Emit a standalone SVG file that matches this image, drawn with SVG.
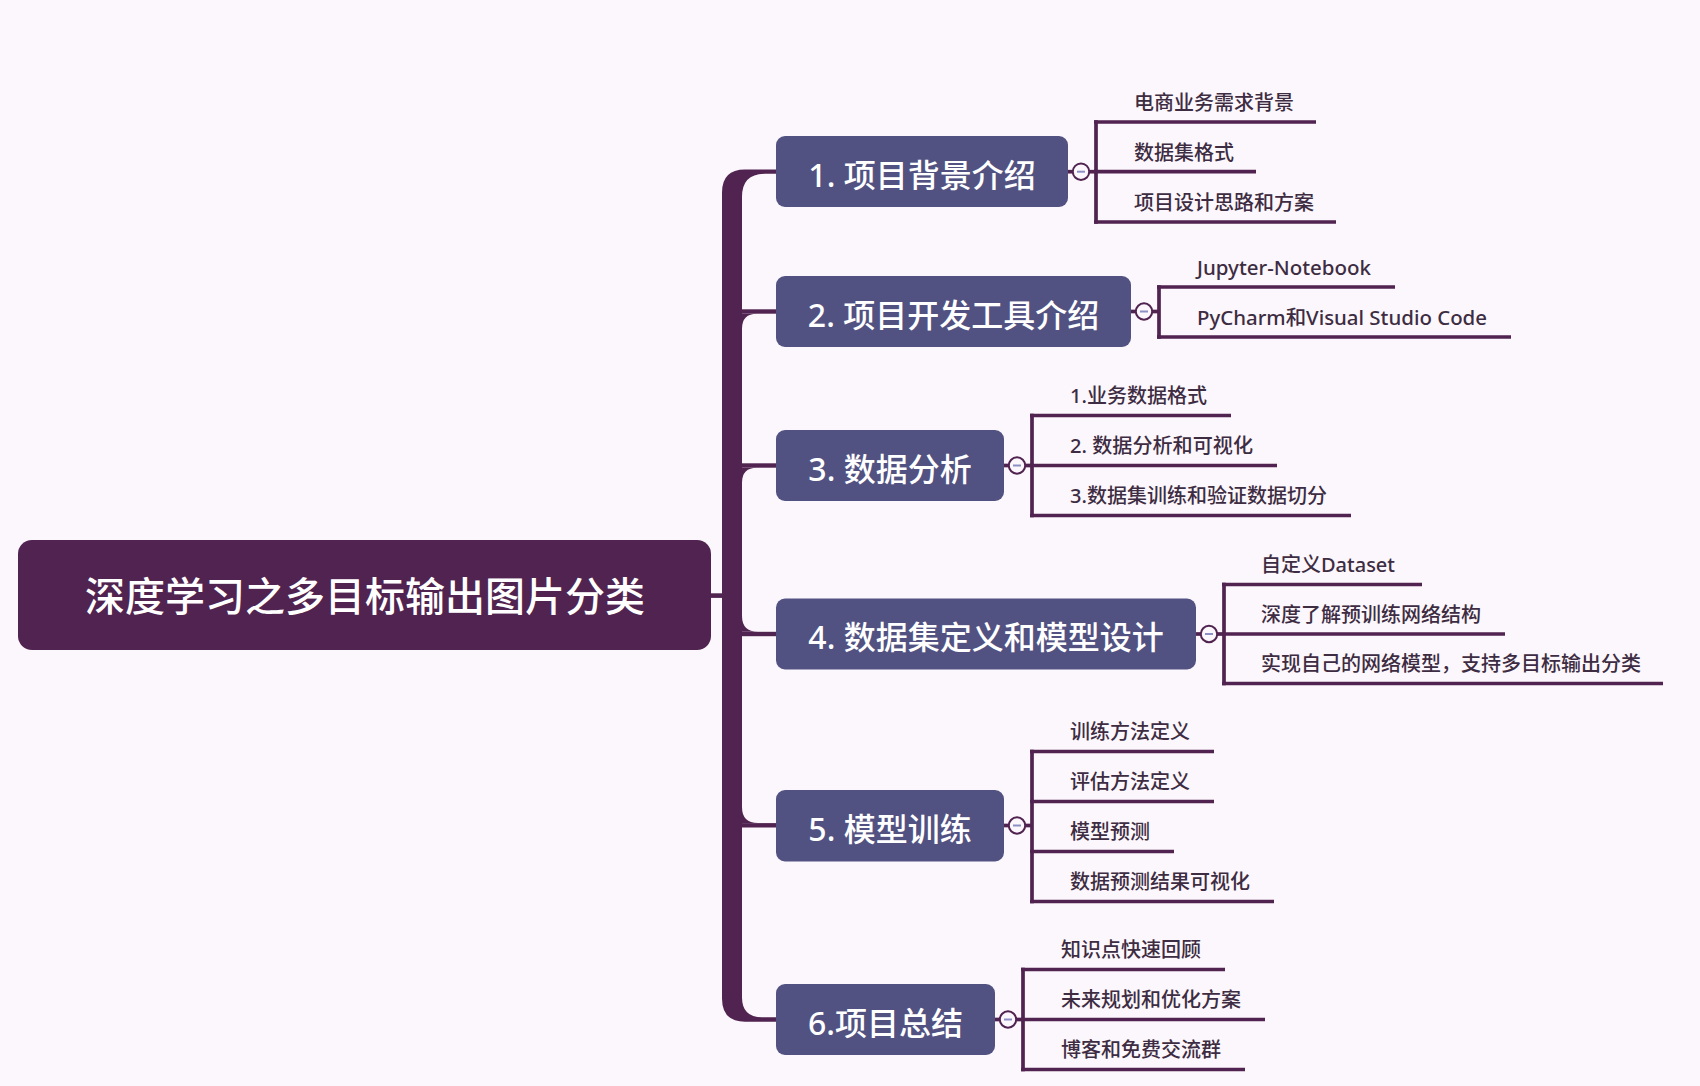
<svg xmlns="http://www.w3.org/2000/svg" width="1700" height="1086" viewBox="0 0 1700 1086">
<style>
.bg{fill:#FCF7FC}
.root rect{fill:#502350}
.root text{font-family:"Noto Sans","Noto Sans CJK SC",sans-serif;font-size:40px;font-weight:500;fill:#ffffff;text-anchor:middle}
.topic rect{fill:#525282}
.topic text{font-family:"Noto Sans","Noto Sans CJK SC",sans-serif;font-size:32px;font-weight:500;fill:#ffffff;text-anchor:middle}
.sub text{font-family:"Noto Sans","Noto Sans CJK SC",sans-serif;font-size:20px;font-weight:500;fill:#3D2C42}
.ln{stroke:#502350;stroke-width:3.7;fill:none}
.trunk{fill:#502350}
.tog circle{fill:#FCF7FC;stroke:#502350;stroke-width:2}
.tog line{stroke:#8C90C4;stroke-width:2}
</style>
<rect class="bg" x="0" y="0" width="1700" height="1086"/>

<g id="connectors">
  <rect class="trunk" x="710" y="593.3" width="13" height="4.6"/>
  <path class="trunk" d="M776,169.6 L745,169.6 Q722,169.6 722,192.6 L722,998.5 Q722,1021.7 745,1021.7 L776,1021.7 L776,1017.3 L762,1017.3 Q742,1017.3 742,997.3 L742,197 Q742,173.8 765,173.8 L776,173.8 Z"/>
  <rect class="trunk" x="740" y="309.3" width="36" height="4.4"/>
  <path class="trunk" d="M742,313.7 L742,328.7 Q742,313.7 757,313.7 Z"/>
  <rect class="trunk" x="740" y="463.3" width="36" height="4.4"/>
  <path class="trunk" d="M742,467.7 L742,482.7 Q742,467.7 757,467.7 Z"/>
  <rect class="trunk" x="740" y="631.8" width="36" height="4.4"/>
  <path class="trunk" d="M742,631.8 L742,615.8 Q742,631.8 758,631.8 Z"/>
  <rect class="trunk" x="740" y="823.1" width="36" height="4.4"/>
  <path class="trunk" d="M742,823.1 L742,807.1 Q742,823.1 758,823.1 Z"/>

  <!-- node 1 -->
  <line class="ln" x1="1068" y1="171.7" x2="1073" y2="171.7"/>
  <line class="ln" x1="1089" y1="171.7" x2="1096" y2="171.7"/>
  <line class="ln" x1="1096" y1="120.2" x2="1096" y2="223.8"/>
  <!-- node 2 -->
  <line class="ln" x1="1131" y1="311.5" x2="1136" y2="311.5"/>
  <line class="ln" x1="1152" y1="311.5" x2="1159" y2="311.5"/>
  <line class="ln" x1="1159" y1="285.2" x2="1159" y2="338.8"/>
  <!-- node 3 -->
  <line class="ln" x1="1004" y1="465.5" x2="1009" y2="465.5"/>
  <line class="ln" x1="1025" y1="465.5" x2="1032" y2="465.5"/>
  <line class="ln" x1="1032" y1="413.7" x2="1032" y2="517.3"/>
  <!-- node 4 -->
  <line class="ln" x1="1196" y1="634" x2="1201" y2="634"/>
  <line class="ln" x1="1217" y1="634" x2="1224" y2="634"/>
  <line class="ln" x1="1224" y1="582.7" x2="1224" y2="685.3"/>
  <!-- node 5 -->
  <line class="ln" x1="1004" y1="825.5" x2="1009" y2="825.5"/>
  <line class="ln" x1="1025" y1="825.5" x2="1032" y2="825.5"/>
  <line class="ln" x1="1032" y1="749.7" x2="1032" y2="903.3"/>
  <!-- node 6 -->
  <line class="ln" x1="995" y1="1019.5" x2="1000" y2="1019.5"/>
  <line class="ln" x1="1016" y1="1019.5" x2="1023" y2="1019.5"/>
  <line class="ln" x1="1023" y1="967.7" x2="1023" y2="1071.3"/>

  <g class="tog">
    <circle cx="1081" cy="171.7" r="8.2"/><line x1="1077" y1="171.7" x2="1085" y2="171.7"/>
    <circle cx="1144" cy="311.5" r="8.2"/><line x1="1140" y1="311.5" x2="1148" y2="311.5"/>
    <circle cx="1017" cy="465.5" r="8.2"/><line x1="1013" y1="465.5" x2="1021" y2="465.5"/>
    <circle cx="1209" cy="634" r="8.2"/><line x1="1205" y1="634" x2="1213" y2="634"/>
    <circle cx="1017" cy="825.5" r="8.2"/><line x1="1013" y1="825.5" x2="1021" y2="825.5"/>
    <circle cx="1008" cy="1019.5" r="8.2"/><line x1="1004" y1="1019.5" x2="1012" y2="1019.5"/>
  </g>
</g>

<g id="root" class="root">
  <rect x="18" y="540" width="693" height="110" rx="14"/>
  <text x="365" y="611">深度学习之多目标输出图片分类</text>
</g>

<g id="t1" class="topic"><rect x="776" y="136" width="292" height="71" rx="9"/><text x="922" y="187">1. 项目背景介绍</text></g>
<g id="t2" class="topic"><rect x="776" y="276" width="355" height="71" rx="9"/><text x="953.5" y="326.5">2. 项目开发工具介绍</text></g>
<g id="t3" class="topic"><rect x="776" y="430" width="228" height="71" rx="9"/><text x="890" y="480.5">3. 数据分析</text></g>
<g id="t4" class="topic"><rect x="776" y="598.5" width="420" height="71" rx="9"/><text x="986" y="649">4. 数据集定义和模型设计</text></g>
<g id="t5" class="topic"><rect x="776" y="790" width="228" height="71.5" rx="9"/><text x="890" y="841">5. 模型训练</text></g>
<g id="t6" class="topic"><rect x="776" y="984" width="219" height="71" rx="9"/><text x="885.5" y="1035">6.项目总结</text></g>

<g id="s1-1" class="sub"><text x="1134" y="109.5">电商业务需求背景</text><line class="ln" x1="1094" y1="122" x2="1316" y2="122"/></g>
<g id="s1-2" class="sub"><text x="1134" y="159.5">数据集格式</text><line class="ln" x1="1094" y1="171.7" x2="1256" y2="171.7"/></g>
<g id="s1-3" class="sub"><text x="1134" y="209.5">项目设计思路和方案</text><line class="ln" x1="1094" y1="222" x2="1336" y2="222"/></g>

<g id="s2-1" class="sub"><text x="1197" y="274.5" textLength="174" lengthAdjust="spacingAndGlyphs">Jupyter-Notebook</text><line class="ln" x1="1157" y1="287" x2="1395" y2="287"/></g>
<g id="s2-2" class="sub"><text x="1197" y="324.5" textLength="290" lengthAdjust="spacingAndGlyphs">PyCharm和Visual Studio Code</text><line class="ln" x1="1157" y1="337" x2="1511" y2="337"/></g>

<g id="s3-1" class="sub"><text x="1070" y="403" textLength="137" lengthAdjust="spacingAndGlyphs">1.业务数据格式</text><line class="ln" x1="1030" y1="415.5" x2="1231" y2="415.5"/></g>
<g id="s3-2" class="sub"><text x="1070" y="453" textLength="183" lengthAdjust="spacingAndGlyphs">2. 数据分析和可视化</text><line class="ln" x1="1030" y1="465.5" x2="1277" y2="465.5"/></g>
<g id="s3-3" class="sub"><text x="1070" y="503" textLength="257" lengthAdjust="spacingAndGlyphs">3.数据集训练和验证数据切分</text><line class="ln" x1="1030" y1="515.5" x2="1351" y2="515.5"/></g>

<g id="s4-1" class="sub"><text x="1261" y="572" textLength="134" lengthAdjust="spacingAndGlyphs">自定义Dataset</text><line class="ln" x1="1222" y1="584.5" x2="1422" y2="584.5"/></g>
<g id="s4-2" class="sub"><text x="1261" y="621.5">深度了解预训练网络结构</text><line class="ln" x1="1222" y1="634" x2="1505" y2="634"/></g>
<g id="s4-3" class="sub"><text x="1261" y="671">实现自己的网络模型，支持多目标输出分类</text><line class="ln" x1="1222" y1="683.5" x2="1663" y2="683.5"/></g>

<g id="s5-1" class="sub"><text x="1070" y="739">训练方法定义</text><line class="ln" x1="1030" y1="751.5" x2="1214" y2="751.5"/></g>
<g id="s5-2" class="sub"><text x="1070" y="789">评估方法定义</text><line class="ln" x1="1030" y1="801.5" x2="1214" y2="801.5"/></g>
<g id="s5-3" class="sub"><text x="1070" y="839">模型预测</text><line class="ln" x1="1030" y1="851.5" x2="1174" y2="851.5"/></g>
<g id="s5-4" class="sub"><text x="1070" y="889">数据预测结果可视化</text><line class="ln" x1="1030" y1="901.5" x2="1274" y2="901.5"/></g>

<g id="s6-1" class="sub"><text x="1061" y="957">知识点快速回顾</text><line class="ln" x1="1021" y1="969.5" x2="1225" y2="969.5"/></g>
<g id="s6-2" class="sub"><text x="1061" y="1007">未来规划和优化方案</text><line class="ln" x1="1021" y1="1019.5" x2="1265" y2="1019.5"/></g>
<g id="s6-3" class="sub"><text x="1061" y="1057">博客和免费交流群</text><line class="ln" x1="1021" y1="1069.5" x2="1245" y2="1069.5"/></g>
</svg>
